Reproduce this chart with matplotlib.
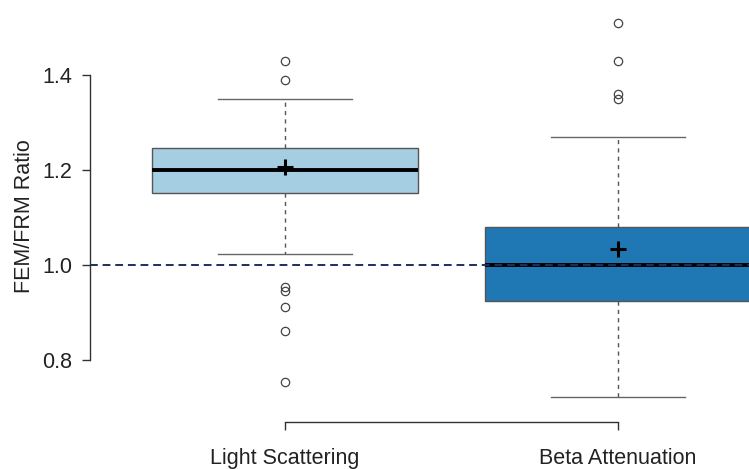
import matplotlib
matplotlib.use("Agg")
import matplotlib.pyplot as plt

plt.rcParams["font.family"] = ["Liberation Sans", "DejaVu Sans"]

# -------- Data --------
groups = ["Light Scattering", "Beta Attenuation"]
medians = [1.20, 1.00]
q1 = [1.152, 0.924]
q3 = [1.246, 1.080]
whisker_low = [1.023, 0.722]
whisker_high = [1.350, 1.269]
means = [1.206, 1.034]
outliers_ls = [1.429, 1.389, 0.954, 0.945, 0.912, 0.861, 0.754]
outliers_ba = [1.509, 1.429, 1.360, 1.350]
box_colors = ["#a6cee3", "#1f78b4"]

stats = []
for i, name in enumerate(groups):
    stats.append({
        "label": name,
        "med": medians[i],
        "q1": q1[i],
        "q3": q3[i],
        "whislo": whisker_low[i],
        "whishi": whisker_high[i],
        "mean": means[i],
        "fliers": [outliers_ls, outliers_ba][i],
    })

fig = plt.figure(figsize=(7.49, 4.69), dpi=100)
ax = fig.add_axes([90 / 749, 47 / 469, 659 / 749, 412 / 469])

bp = ax.bxp(
    stats, positions=[1, 2], widths=0.8, patch_artist=True, showmeans=False,
    boxprops=dict(edgecolor="#555555", linewidth=1),
    whiskerprops=dict(color="#555555", linestyle=(0, (3, 3)), linewidth=1),
    capprops=dict(color="#666666", linewidth=1),
    medianprops=dict(color="black", linewidth=2.8),
    flierprops=dict(marker="o", markerfacecolor="none", markeredgecolor="#444444",
                    markersize=6, markeredgewidth=0.9),
)
for patch, c in zip(bp["boxes"], box_colors):
    patch.set_facecolor(c)

# mean markers as bold plus
ax.plot([1, 2], means, linestyle="none", marker="+", markersize=12,
        markeredgewidth=2.2, color="black", zorder=5)

# reference line at 1.0
ax.axhline(1.0, color="#1b2f5e", linestyle=(0, (4, 2.5)), linewidth=1.4, zorder=6)

ax.set_xlim(0.4144, 2.393)
ax.set_ylim(0.6695, 1.537)

for s in ["top", "right"]:
    ax.spines[s].set_visible(False)
ax.spines["left"].set_bounds(0.8, 1.4)
ax.spines["bottom"].set_bounds(1, 2)
for s in ["left", "bottom"]:
    ax.spines[s].set_color("#333333")
    ax.spines[s].set_linewidth(1)

ax.set_yticks([0.8, 1.0, 1.2, 1.4])
ax.set_yticklabels(["0.8", "1.0", "1.2", "1.4"])
ax.set_xticks([1, 2])
ax.set_xticklabels(groups)
ax.tick_params(axis="y", direction="out", length=6, width=1, color="#333333",
               labelsize=15.5, pad=7, labelcolor="#222222")
ax.tick_params(axis="x", direction="out", length=6, width=1, color="#333333",
               labelsize=15.5, pad=13, labelcolor="#222222")
ax.set_ylabel("FEM/FRM Ratio", fontsize=15.5, color="#222222")
ax.yaxis.set_label_coords(-0.083, 0.5)

plt.savefig("out.png", dpi=100)
plt.close()
